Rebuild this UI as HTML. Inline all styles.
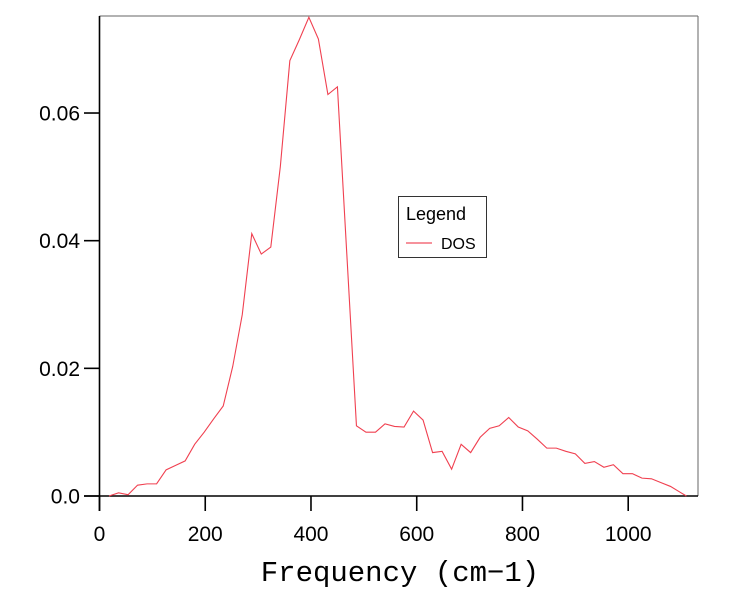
<!DOCTYPE html>
<html><head><meta charset="utf-8"><style>
html,body{margin:0;padding:0;background:#fff;}
svg{display:block;}
text{font-family:"Liberation Sans",sans-serif;}
</style></head><body>
<svg id="chart" width="736" height="599">
<g id="axes"></g>
<g id="series"></g>
<text x="400" y="581" text-anchor="middle" font-size="29" style="font-family:'Liberation Mono',monospace">Frequency (cm−1)</text>
<g>
<rect x="398.5" y="196.5" width="88" height="61" fill="#fff" stroke="#333" stroke-width="1"/>
<text x="406" y="220" font-size="18">Legend</text>
<line x1="406" y1="243" x2="432" y2="243" stroke="#f05060" stroke-width="1.2"/>
<text x="441" y="249" font-size="16">DOS</text>
</g>
</svg>
<script>
const freq = [18,36,54,72,90,108,126,144,162,180,198,216,234,252,270,288,306,324,342,360,378,396,414,432,450,
486,504,522,540,558,576,594,612,630,648,666,684,702,720,738,756,774,792,810,828,846,864,882,900,918,936,954,972,990,1008,1026,1044,1062,1080,1098,1110];
const dos = [0,0.0005,0.0002,0.0017,0.0019,0.0019,0.0041,0.0048,0.0055,0.0081,0.0100,0.0121,0.0141,0.0203,0.0284,0.0411,0.0379,0.0390,0.0516,0.0682,0.0715,0.0750,0.0716,0.0629,0.0641,
0.0110,0.0100,0.0100,0.0113,0.0109,0.0108,0.0133,0.0119,0.0068,0.0070,0.0042,0.0081,0.0068,0.0092,0.0106,0.0110,0.0123,0.0108,0.0102,0.0089,0.0075,0.0075,0.0070,0.0066,0.0051,0.0054,0.0045,0.0049,0.0035,0.0035,0.0028,0.0027,0.0021,0.0015,0.0006,0.0000];
const xTicks = [0,200,400,600,800,1000];
const yTicks = [0,0.02,0.04,0.06];
const yTickLabels = ["0.0","0.02","0.04","0.06"];

const L=99.5,R=698,T=16,B=496;
const xMax=1132, yMax=0.0752;
const sx=v=>L+v*(R-L)/xMax;
const sy=v=>B-v*(B-T)/yMax;
const NS="http://www.w3.org/2000/svg";
function mk(tag,attrs,parent){const e=document.createElementNS(NS,tag);for(const k in attrs)e.setAttribute(k,attrs[k]);parent.appendChild(e);return e;}
const ax=document.getElementById('axes');
let e;
e=mk('line',{x1:L,y1:T,x2:R,y2:T,stroke:'#666','stroke-width':1},ax);


e=mk('line',{x1:R,y1:T,x2:R,y2:B,stroke:'#666','stroke-width':1},ax);


e=mk('line',{x1:84,y1:B,x2:R,y2:B,stroke:'#000','stroke-width':1.6},ax);


e=mk('line',{x1:L,y1:T,x2:L,y2:511,stroke:'#000','stroke-width':1.6},ax);


xTicks.forEach(v=>{
  const x=sx(v);
  e=mk('line',{x1:x,y1:B,x2:x,y2:511,stroke:'#000','stroke-width':1.6},ax);
  
  
  e=mk('text',{x:x,y:541,'text-anchor':'middle','font-size':21},ax);
  e.textContent=String(v);
  
  
});
yTicks.forEach((v,i)=>{
  const y=sy(v);
  e=mk('line',{x1:84,y1:y,x2:L,y2:y,stroke:'#000','stroke-width':1.6},ax);
  
  
  e=mk('text',{x:80,y:y+7.5,'text-anchor':'end','font-size':21},ax);
  e.textContent=yTickLabels[i];
  
  
});
const pts=freq.map((f,i)=>sx(f).toFixed(2)+','+sy(dos[i]).toFixed(2)).join(' ');
e=mk('polyline',{points:pts,fill:'none',stroke:'#f04050','stroke-width':1.1},document.getElementById('series'));


</script>
</body></html>
